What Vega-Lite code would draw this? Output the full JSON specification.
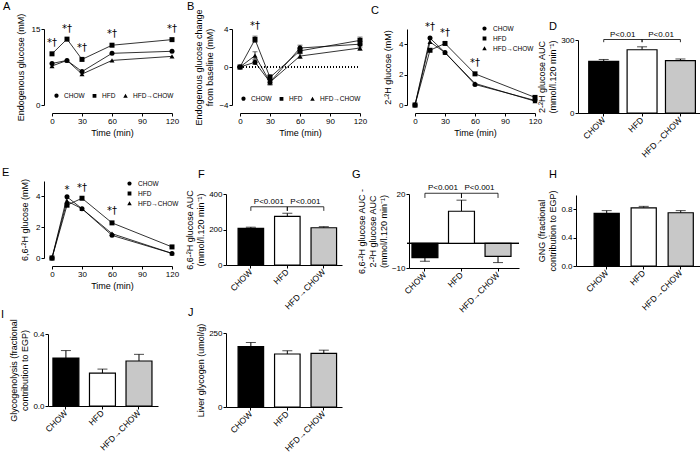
{
"$schema": "https://vega.github.io/schema/vega-lite/v6.json",
"padding": {"left": 1, "top": 0, "right": 0, "bottom": 0},
"columns": 4,
"spacing": {"row": 65, "column": 0},
"bounds": "flush",
"config": {
 "font": "Liberation Sans",
 "view": {"stroke": null},
 "axis": {"grid": false, "labelOverlap": false, "labelFlush": false, "labelFontSize": 8, "titleFontSize": 9, "titleFontWeight": "normal", "tickSize": 3, "labelPadding": 1, "titlePadding": 3, "domainColor": "black", "tickColor": "black", "labelColor": "black", "titleColor": "black", "labelFont": "Liberation Sans", "titleFont": "Liberation Sans"},
 "legend": {"labelFontSize": 6.5, "labelColor": "black", "labelFont": "Liberation Sans"},
 "title": {"orient": "top", "anchor": "start", "frame": "group", "align": "left", "baseline": "bottom", "fontSize": 11, "fontWeight": "normal", "offset": 0, "color": "black"}
},
"datasets": {
 "lA": [
  {"t":0,"g":"CHOW","v":8.2},{"t":15,"g":"CHOW","v":8.8},{"t":30,"g":"CHOW","v":6.6},{"t":60,"g":"CHOW","v":10.2},{"t":120,"g":"CHOW","v":10.6},
  {"t":0,"g":"HFD","v":10.1},{"t":15,"g":"HFD","v":13.0},{"t":30,"g":"HFD","v":9.0},{"t":60,"g":"HFD","v":11.8},{"t":120,"g":"HFD","v":12.9},
  {"t":0,"g":"HFD→CHOW","v":7.7},{"t":15,"g":"HFD→CHOW","v":8.8},{"t":30,"g":"HFD→CHOW","v":6.1},{"t":60,"g":"HFD→CHOW","v":8.8},{"t":120,"g":"HFD→CHOW","v":9.6}
 ],
 "nA": [{"t":0,"v":12.2,"s":"*†"},{"t":15,"v":15,"s":"*†"},{"t":30,"v":11.3,"s":"*†"},{"t":60,"v":14,"s":"*†"},{"t":120,"v":15,"s":"*†"}],
 "lB": [
  {"t":0,"g":"CHOW","v":0,"lo":0,"hi":0},{"t":15,"g":"CHOW","v":0.5,"lo":0.25,"hi":0.75},{"t":30,"g":"CHOW","v":-1.6,"lo":-1.85,"hi":-1.35},{"t":60,"g":"CHOW","v":2.0,"lo":1.7,"hi":2.3},{"t":120,"g":"CHOW","v":2.4,"lo":2.1,"hi":2.7},
  {"t":0,"g":"HFD","v":0,"lo":0,"hi":0},{"t":15,"g":"HFD","v":2.9,"lo":2.6,"hi":3.25},{"t":30,"g":"HFD","v":-1.1,"lo":-1.4,"hi":-0.8},{"t":60,"g":"HFD","v":1.7,"lo":1.4,"hi":2.0},{"t":120,"g":"HFD","v":2.8,"lo":2.45,"hi":3.15},
  {"t":0,"g":"HFD→CHOW","v":0,"lo":0,"hi":0},{"t":15,"g":"HFD→CHOW","v":1.2,"lo":0.85,"hi":1.6},{"t":30,"g":"HFD→CHOW","v":-1.6,"lo":-1.9,"hi":-1.3},{"t":60,"g":"HFD→CHOW","v":1.15,"lo":0.9,"hi":1.4},{"t":120,"g":"HFD→CHOW","v":2.0,"lo":1.75,"hi":2.25}
 ],
 "nB": [{"t":15,"v":4.3,"s":"*†"}],
 "lC": [
  {"t":0,"g":"CHOW","v":0,"lo":0,"hi":0},{"t":15,"g":"CHOW","v":4.4,"lo":4.3,"hi":4.5},{"t":30,"g":"CHOW","v":3.45,"lo":3.37,"hi":3.53},{"t":60,"g":"CHOW","v":1.35,"lo":1.27,"hi":1.43},{"t":120,"g":"CHOW","v":0.3,"lo":0.25,"hi":0.35},
  {"t":0,"g":"HFD","v":0,"lo":0,"hi":0},{"t":15,"g":"HFD","v":3.6,"lo":3.48,"hi":3.72},{"t":30,"g":"HFD","v":4.05,"lo":3.95,"hi":4.15},{"t":60,"g":"HFD","v":2.05,"lo":1.95,"hi":2.15},{"t":120,"g":"HFD","v":0.5,"lo":0.44,"hi":0.56},
  {"t":0,"g":"HFD→CHOW","v":0,"lo":0,"hi":0},{"t":15,"g":"HFD→CHOW","v":4.15,"lo":4.05,"hi":4.25},{"t":30,"g":"HFD→CHOW","v":3.45,"lo":3.37,"hi":3.53},{"t":60,"g":"HFD→CHOW","v":1.42,"lo":1.34,"hi":1.5},{"t":120,"g":"HFD→CHOW","v":0.25,"lo":0.2,"hi":0.3}
 ],
 "nC": [{"t":15,"v":5.1,"s":"*†"},{"t":30,"v":4.75,"s":"*†"},{"t":60,"v":2.75,"s":"*†"}],
 "lE": [
  {"t":0,"g":"CHOW","v":0,"lo":0,"hi":0},{"t":15,"g":"CHOW","v":3.97,"lo":3.88,"hi":4.06},{"t":30,"g":"CHOW","v":3.2,"lo":3.12,"hi":3.28},{"t":60,"g":"CHOW","v":1.47,"lo":1.39,"hi":1.55},{"t":120,"g":"CHOW","v":0.3,"lo":0.25,"hi":0.35},
  {"t":0,"g":"HFD","v":0,"lo":0,"hi":0},{"t":15,"g":"HFD","v":3.43,"lo":3.33,"hi":3.53},{"t":30,"g":"HFD","v":3.88,"lo":3.78,"hi":3.98},{"t":60,"g":"HFD","v":2.28,"lo":2.18,"hi":2.38},{"t":120,"g":"HFD","v":0.72,"lo":0.66,"hi":0.78},
  {"t":0,"g":"HFD→CHOW","v":0,"lo":0,"hi":0},{"t":15,"g":"HFD→CHOW","v":3.7,"lo":3.6,"hi":3.8},{"t":30,"g":"HFD→CHOW","v":3.2,"lo":3.12,"hi":3.28},{"t":60,"g":"HFD→CHOW","v":1.58,"lo":1.5,"hi":1.66},{"t":120,"g":"HFD→CHOW","v":0.3,"lo":0.25,"hi":0.35}
 ],
 "nE": [{"t":15,"v":4.4,"s":"*"},{"t":30,"v":4.55,"s":"*†"},{"t":60,"v":3.05,"s":"*†"}],
 "bD": [{"g":"CHOW","v":212,"err":220},{"g":"HFD","v":260,"err":272},{"g":"HFD→CHOW","v":215,"err":222}],
 "pD": [{"a":"CHOW","b":"HFD","y":302,"y0":291,"s":"P<0.01"},{"a":"HFD","b":"HFD→CHOW","y":302,"y0":291,"s":"P<0.01"}],
 "bF": [{"g":"CHOW","v":206,"err":213},{"g":"HFD","v":274,"err":291},{"g":"HFD→CHOW","v":210,"err":216}],
 "pF": [{"a":"CHOW","b":"HFD","y":328,"y0":305,"s":"P<0.001"},{"a":"HFD","b":"HFD→CHOW","y":328,"y0":305,"s":"P<0.001"}],
 "bG": [{"g":"CHOW","v":-5.8,"err":-7.3},{"g":"HFD","v":13,"err":17.5},{"g":"HFD→CHOW","v":-5.3,"err":-7.8}],
 "pG": [{"a":"CHOW","b":"HFD","y":20.3,"y0":18.4,"s":"P<0.001"},{"a":"HFD","b":"HFD→CHOW","y":20.3,"y0":18.4,"s":"P<0.001"}],
 "bH": [{"g":"CHOW","v":0.74,"err":0.78},{"g":"HFD","v":0.82,"err":0.84},{"g":"HFD→CHOW","v":0.75,"err":0.78}],
 "bI": [{"g":"CHOW","v":0.266,"err":0.308},{"g":"HFD","v":0.183,"err":0.205},{"g":"HFD→CHOW","v":0.25,"err":0.287}],
 "bJ": [{"g":"CHOW","v":204,"err":218},{"g":"HFD","v":179,"err":190},{"g":"HFD→CHOW","v":181,"err":192}]
},
"concat": [
 {
  "width": 182, "height": 84,
  "title": {"text": "A", "dx": -41, "dy": 3},
  "data": {"name": "lA"},
  "resolve": {"scale": {"shape": "independent"}},
  "layer": [
   {"mark": {"type": "line", "color": "black", "strokeWidth": 0.8},
    "encoding": {
     "x": {"field": "t", "type": "quantitative", "scale": {"domain": [0, 120], "range": [8, 128], "nice": false, "zero": false}, "axis": {"title": "Time (min)", "values": [0, 30, 60, 90, 120], "labelOverlap": false}},
     "y": {"field": "v", "type": "quantitative", "scale": {"domain": [0, 15], "range": [76, 0], "nice": false}, "axis": {"title": "Endogenous glucose (mM)", "values": [0, 5, 10, 15], "titlePadding": 6, "labelOverlap": false}},
     "detail": {"field": "g"}}},
   {"mark": {"type": "point", "filled": true, "color": "black", "size": 25, "opacity": 1},
    "encoding": {"x": {"field": "t", "type": "quantitative"}, "y": {"field": "v", "type": "quantitative"},
     "shape": {"field": "g", "type": "nominal", "scale": {"domain": ["CHOW", "HFD", "HFD→CHOW"], "range": ["circle", "square", "triangle-up"]}, "legend": null}}},
   {"transform": [{"filter": "false"}],
    "mark": {"type": "point", "fill": "black", "stroke": "black", "strokeWidth": 1, "opacity": 1},
    "encoding": {"x": {"field": "t", "type": "quantitative"}, "y": {"field": "v", "type": "quantitative"},
     "shape": {"field": "g", "type": "nominal", "scale": {"domain": ["CHOW", "HFD", "HFD→CHOW"], "range": ["M-1,0L1,0M0.42,0A0.42,0.42,0,1,1,-0.42,0A0.42,0.42,0,1,1,0.42,0Z", "M-1,0L1,0M-0.38,-0.38L0.38,-0.38L0.38,0.38L-0.38,0.38Z", "M-1,0L1,0M0,-0.45L0.45,0.35L-0.45,0.35Z"]},
      "legend": {"title": null, "orient": "none", "legendX": 7, "legendY": 61, "direction": "horizontal", "symbolSize": 100, "columnPadding": 2, "labelOffset": 2, "symbolStrokeWidth": 1, "symbolFillColor": "black", "symbolStrokeColor": "black", "symbolOpacity": 1}}}},
   {"data": {"name": "nA"}, "mark": {"type": "text", "fontSize": 10, "baseline": "middle", "fill": "black", "font": "DejaVu Sans"},
    "encoding": {"x": {"field": "t", "type": "quantitative"}, "y": {"field": "v", "type": "quantitative"}, "text": {"field": "s"}}}
  ]
 },
 {
  "width": 181, "height": 84,
  "title": {"text": "B", "dx": -39, "dy": 7},
  "data": {"name": "lB"},
  "resolve": {"scale": {"shape": "independent"}},
  "layer": [
   {"mark": {"type": "rule", "color": "black", "strokeDash": [1, 2], "strokeWidth": 0.8},
    "encoding": {"x": {"datum": 0, "type": "quantitative"}, "x2": {"datum": 120}, "y": {"datum": 0, "type": "quantitative"}}},
   {"mark": {"type": "rule", "color": "black", "strokeWidth": 0.8},
    "encoding": {"x": {"field": "t", "type": "quantitative"}, "y": {"field": "lo", "type": "quantitative"}, "y2": {"field": "hi"}}},
   {"mark": {"type": "tick", "orient": "horizontal", "color": "black", "size": 5, "thickness": 0.8},
    "encoding": {"x": {"field": "t", "type": "quantitative"}, "y": {"field": "hi", "type": "quantitative"}}},
   {"mark": {"type": "tick", "orient": "horizontal", "color": "black", "size": 5, "thickness": 0.8},
    "encoding": {"x": {"field": "t", "type": "quantitative"}, "y": {"field": "lo", "type": "quantitative"}}},
   {"mark": {"type": "line", "color": "black", "strokeWidth": 0.8},
    "encoding": {
     "x": {"field": "t", "type": "quantitative", "scale": {"domain": [0, 120], "range": [14, 134], "nice": false, "zero": false}, "axis": {"title": "Time (min)", "values": [0, 30, 60, 90, 120], "labelOverlap": false}},
     "y": {"field": "v", "type": "quantitative", "scale": {"domain": [-4, 4], "range": [76, 0], "nice": false}, "axis": {"title": ["Endogenous glucose change", "from baseline (mM)"], "values": [-4, -2, 0, 2, 4], "offset": -6, "titlePadding": 4, "labelOverlap": false}},
     "detail": {"field": "g"}}},
   {"mark": {"type": "point", "filled": true, "color": "black", "size": 25, "opacity": 1},
    "encoding": {"x": {"field": "t", "type": "quantitative"}, "y": {"field": "v", "type": "quantitative"},
     "shape": {"field": "g", "type": "nominal", "scale": {"domain": ["CHOW", "HFD", "HFD→CHOW"], "range": ["circle", "square", "triangle-up"]}, "legend": null}}},
   {"transform": [{"filter": "false"}],
    "mark": {"type": "point", "fill": "black", "stroke": "black", "strokeWidth": 1, "opacity": 1},
    "encoding": {"x": {"field": "t", "type": "quantitative"}, "y": {"field": "v", "type": "quantitative"},
     "shape": {"field": "g", "type": "nominal", "scale": {"domain": ["CHOW", "HFD", "HFD→CHOW"], "range": ["M-1,0L1,0M0.42,0A0.42,0.42,0,1,1,-0.42,0A0.42,0.42,0,1,1,0.42,0Z", "M-1,0L1,0M-0.38,-0.38L0.38,-0.38L0.38,0.38L-0.38,0.38Z", "M-1,0L1,0M0,-0.45L0.45,0.35L-0.45,0.35Z"]},
      "legend": {"title": null, "orient": "none", "legendX": 12, "legendY": 64, "direction": "horizontal", "symbolSize": 100, "columnPadding": 2, "labelOffset": 2, "symbolStrokeWidth": 1, "symbolFillColor": "black", "symbolStrokeColor": "black", "symbolOpacity": 1}}}},
   {"data": {"name": "nB"}, "mark": {"type": "text", "fontSize": 10, "baseline": "middle", "fill": "black", "font": "DejaVu Sans"},
    "encoding": {"x": {"field": "t", "type": "quantitative"}, "y": {"field": "v", "type": "quantitative"}, "text": {"field": "s"}}}
  ]
 },
 {
  "width": 169, "height": 84,
  "title": {"text": "C", "dx": -36, "dy": -2},
  "data": {"name": "lC"},
  "resolve": {"scale": {"shape": "independent"}},
  "layer": [
   {"mark": {"type": "rule", "color": "black", "strokeWidth": 0.8},
    "encoding": {"x": {"field": "t", "type": "quantitative"}, "y": {"field": "lo", "type": "quantitative"}, "y2": {"field": "hi"}}},
   {"mark": {"type": "line", "color": "black", "strokeWidth": 0.8},
    "encoding": {
     "x": {"field": "t", "type": "quantitative", "scale": {"domain": [0, 120], "range": [8, 128], "nice": false, "zero": false}, "axis": {"title": "Time (min)", "values": [0, 30, 60, 90, 120], "labelOverlap": false}},
     "y": {"field": "v", "type": "quantitative", "scale": {"domain": [0, 5], "range": [76, 0], "nice": false}, "axis": {"title": "2-²H glucose (mM)", "values": [0, 1, 2, 3, 4, 5], "titlePadding": 6, "labelOverlap": false}},
     "detail": {"field": "g"}}},
   {"mark": {"type": "point", "filled": true, "color": "black", "size": 25, "opacity": 1},
    "encoding": {"x": {"field": "t", "type": "quantitative"}, "y": {"field": "v", "type": "quantitative"},
     "shape": {"field": "g", "type": "nominal", "scale": {"domain": ["CHOW", "HFD", "HFD→CHOW"], "range": ["circle", "square", "triangle-up"]}, "legend": null}}},
   {"transform": [{"filter": "false"}],
    "mark": {"type": "point", "fill": "black", "stroke": "black", "strokeWidth": 1, "opacity": 1},
    "encoding": {"x": {"field": "t", "type": "quantitative"}, "y": {"field": "v", "type": "quantitative"},
     "shape": {"field": "g", "type": "nominal", "scale": {"domain": ["CHOW", "HFD", "HFD→CHOW"], "range": ["M-1,0L1,0M0.42,0A0.42,0.42,0,1,1,-0.42,0A0.42,0.42,0,1,1,0.42,0Z", "M-1,0L1,0M-0.38,-0.38L0.38,-0.38L0.38,0.38L-0.38,0.38Z", "M-1,0L1,0M0,-0.45L0.45,0.35L-0.45,0.35Z"]},
      "legend": {"title": null, "orient": "none", "legendX": 72, "legendY": -6, "direction": "vertical", "symbolSize": 100, "rowPadding": 0, "labelOffset": 3, "symbolStrokeWidth": 1, "symbolFillColor": "black", "symbolStrokeColor": "black", "symbolOpacity": 1}}}},
   {"data": {"name": "nC"}, "mark": {"type": "text", "fontSize": 10, "baseline": "middle", "fill": "black", "font": "DejaVu Sans"},
    "encoding": {"x": {"field": "t", "type": "quantitative"}, "y": {"field": "v", "type": "quantitative"}, "text": {"field": "s"}}}
  ]
 },
 {
  "width": 124, "height": 84,
  "title": {"text": "D", "dx": -27, "dy": 7},
  "data": {"name": "bD"},
  "layer": [
   {"mark": {"type": "rule", "color": "black", "strokeWidth": 1},
    "encoding": {"x": {"field": "g", "type": "nominal"}, "y": {"field": "v", "type": "quantitative"}, "y2": {"field": "err"}}},
   {"mark": {"type": "tick", "color": "black", "size": 10, "thickness": 1},
    "encoding": {"x": {"field": "g", "type": "nominal"}, "y": {"field": "err", "type": "quantitative"}}},
   {"mark": {"type": "bar", "stroke": "black", "strokeWidth": 1.2},
    "encoding": {
     "x": {"field": "g", "type": "nominal", "scale": {"domain": ["CHOW", "HFD", "HFD→CHOW"], "range": [2, 124], "paddingInner": 0.22, "paddingOuter": 0.2, "align": 0.7}, "axis": {"title": null, "labelAngle": -45, "labelFontSize": 8.5, "labelPadding": 2}},
     "y": {"field": "v", "type": "quantitative", "scale": {"domain": [0, 300], "range": [84, 11], "nice": false}, "axis": {"title": ["2-²H glucose AUC", "(mmol/l.120 min⁻¹)"], "values": [0, 100, 200, 300], "offset": -2, "labelOverlap": false}},
     "fill": {"field": "g", "type": "nominal", "scale": {"domain": ["CHOW", "HFD", "HFD→CHOW"], "range": ["black", "white", "#c8c8c8"]}, "legend": null}}},
   {"data": {"name": "pD"}, "mark": {"type": "rule", "color": "black", "strokeWidth": 0.8},
    "encoding": {"x": {"field": "a", "type": "nominal"}, "x2": {"field": "b"}, "y": {"field": "y", "type": "quantitative"}}},
   {"data": {"name": "pD"}, "mark": {"type": "rule", "color": "black", "strokeWidth": 0.8},
    "encoding": {"x": {"field": "a", "type": "nominal"}, "y": {"field": "y", "type": "quantitative"}, "y2": {"field": "y0"}}},
   {"data": {"name": "pD"}, "mark": {"type": "rule", "color": "black", "strokeWidth": 0.8},
    "encoding": {"x": {"field": "b", "type": "nominal"}, "y": {"field": "y", "type": "quantitative"}, "y2": {"field": "y0"}}},
   {"data": {"name": "pD"}, "mark": {"type": "text", "fontSize": 8, "baseline": "bottom", "dx": 19, "dy": -1, "fill": "black"},
    "encoding": {"x": {"field": "a", "type": "nominal"}, "y": {"field": "y", "type": "quantitative"}, "text": {"field": "s"}}}
  ]
 },
 {
  "width": 182, "height": 88,
  "title": {"text": "E", "dx": -42, "dy": 4},
  "data": {"name": "lE"},
  "resolve": {"scale": {"shape": "independent"}},
  "layer": [
   {"mark": {"type": "rule", "color": "black", "strokeWidth": 0.8},
    "encoding": {"x": {"field": "t", "type": "quantitative"}, "y": {"field": "lo", "type": "quantitative"}, "y2": {"field": "hi"}}},
   {"mark": {"type": "line", "color": "black", "strokeWidth": 0.8},
    "encoding": {
     "x": {"field": "t", "type": "quantitative", "scale": {"domain": [0, 120], "range": [8, 128], "nice": false, "zero": false}, "axis": {"title": "Time (min)", "values": [0, 30, 60, 90, 120], "labelOverlap": false}},
     "y": {"field": "v", "type": "quantitative", "scale": {"domain": [0, 5], "range": [80, 3], "nice": false}, "axis": {"title": "6,6-²H glucose (mM)", "values": [0, 1, 2, 3, 4, 5], "titlePadding": 6, "labelOverlap": false}},
     "detail": {"field": "g"}}},
   {"mark": {"type": "point", "filled": true, "color": "black", "size": 25, "opacity": 1},
    "encoding": {"x": {"field": "t", "type": "quantitative"}, "y": {"field": "v", "type": "quantitative"},
     "shape": {"field": "g", "type": "nominal", "scale": {"domain": ["CHOW", "HFD", "HFD→CHOW"], "range": ["circle", "square", "triangle-up"]}, "legend": null}}},
   {"transform": [{"filter": "false"}],
    "mark": {"type": "point", "fill": "black", "stroke": "black", "strokeWidth": 1, "opacity": 1},
    "encoding": {"x": {"field": "t", "type": "quantitative"}, "y": {"field": "v", "type": "quantitative"},
     "shape": {"field": "g", "type": "nominal", "scale": {"domain": ["CHOW", "HFD", "HFD→CHOW"], "range": ["M-1,0L1,0M0.42,0A0.42,0.42,0,1,1,-0.42,0A0.42,0.42,0,1,1,0.42,0Z", "M-1,0L1,0M-0.38,-0.38L0.38,-0.38L0.38,0.38L-0.38,0.38Z", "M-1,0L1,0M0,-0.45L0.45,0.35L-0.45,0.35Z"]},
      "legend": {"title": null, "orient": "none", "legendX": 80, "legendY": 0, "direction": "vertical", "symbolSize": 100, "rowPadding": 0, "labelOffset": 3, "symbolStrokeWidth": 1, "symbolFillColor": "black", "symbolStrokeColor": "black", "symbolOpacity": 1}}}},
   {"data": {"name": "nE"}, "mark": {"type": "text", "fontSize": 10, "baseline": "middle", "fill": "black", "font": "DejaVu Sans"},
    "encoding": {"x": {"field": "t", "type": "quantitative"}, "y": {"field": "v", "type": "quantitative"}, "text": {"field": "s"}}}
  ]
 },
 {
  "width": 116, "height": 87,
  "title": {"text": "F", "dx": -28, "dy": 6},
  "data": {"name": "bF"},
  "layer": [
   {"mark": {"type": "rule", "color": "black", "strokeWidth": 1},
    "encoding": {"x": {"field": "g", "type": "nominal"}, "y": {"field": "v", "type": "quantitative"}, "y2": {"field": "err"}}},
   {"mark": {"type": "tick", "color": "black", "size": 10, "thickness": 1},
    "encoding": {"x": {"field": "g", "type": "nominal"}, "y": {"field": "err", "type": "quantitative"}}},
   {"mark": {"type": "bar", "stroke": "black", "strokeWidth": 1.2},
    "encoding": {
     "x": {"field": "g", "type": "nominal", "scale": {"domain": ["CHOW", "HFD", "HFD→CHOW"], "range": [0, 116], "paddingInner": 0.3, "paddingOuter": 0.24, "align": 0.69}, "axis": {"title": null, "labelAngle": -45, "labelFontSize": 8.5, "labelPadding": 2}},
     "y": {"field": "v", "type": "quantitative", "scale": {"domain": [0, 400], "range": [87, 16], "nice": false}, "axis": {"title": ["6,6-²H glucose AUC", "(mmol/l.120 min⁻¹)"], "values": [0, 100, 200, 300, 400], "labelOverlap": false}},
     "fill": {"field": "g", "type": "nominal", "scale": {"domain": ["CHOW", "HFD", "HFD→CHOW"], "range": ["black", "white", "#c8c8c8"]}, "legend": null}}},
   {"data": {"name": "pF"}, "mark": {"type": "rule", "color": "black", "strokeWidth": 0.8},
    "encoding": {"x": {"field": "a", "type": "nominal"}, "x2": {"field": "b"}, "y": {"field": "y", "type": "quantitative"}}},
   {"data": {"name": "pF"}, "mark": {"type": "rule", "color": "black", "strokeWidth": 0.8},
    "encoding": {"x": {"field": "a", "type": "nominal"}, "y": {"field": "y", "type": "quantitative"}, "y2": {"field": "y0"}}},
   {"data": {"name": "pF"}, "mark": {"type": "rule", "color": "black", "strokeWidth": 0.8},
    "encoding": {"x": {"field": "b", "type": "nominal"}, "y": {"field": "y", "type": "quantitative"}, "y2": {"field": "y0"}}},
   {"data": {"name": "pF"}, "mark": {"type": "text", "fontSize": 8, "baseline": "bottom", "dx": 18, "dy": -1, "fill": "black"},
    "encoding": {"x": {"field": "a", "type": "nominal"}, "y": {"field": "y", "type": "quantitative"}, "text": {"field": "s"}}}
  ]
 },
 {
  "width": 112, "height": 90,
  "title": {"text": "G", "dx": -55, "dy": 6},
  "data": {"name": "bG"},
  "layer": [
   {"mark": {"type": "rule", "color": "black", "strokeWidth": 1},
    "encoding": {"y": {"datum": 0, "type": "quantitative"}}},
   {"mark": {"type": "rule", "color": "black", "strokeWidth": 1},
    "encoding": {"x": {"field": "g", "type": "nominal"}, "y": {"field": "v", "type": "quantitative"}, "y2": {"field": "err"}}},
   {"mark": {"type": "tick", "color": "black", "size": 10, "thickness": 1},
    "encoding": {"x": {"field": "g", "type": "nominal"}, "y": {"field": "err", "type": "quantitative"}}},
   {"mark": {"type": "bar", "stroke": "black", "strokeWidth": 1.2},
    "encoding": {
     "x": {"field": "g", "type": "nominal", "scale": {"domain": ["CHOW", "HFD", "HFD→CHOW"], "range": [2, 112], "paddingInner": 0.29, "paddingOuter": 0.15, "align": 0.27}, "axis": {"title": null, "labelAngle": -45, "labelFontSize": 8.5, "labelPadding": 2}},
     "y": {"field": "v", "type": "quantitative", "scale": {"domain": [-10, 20], "range": [90, 16], "nice": false, "zero": false}, "axis": {"title": ["6,6-²H glucose AUC -", "2-²H glucose AUC", "(mmol/l.120 min⁻¹)"], "values": [-10, 0, 10, 20], "offset": -2, "labelOverlap": false}},
     "fill": {"field": "g", "type": "nominal", "scale": {"domain": ["CHOW", "HFD", "HFD→CHOW"], "range": ["black", "white", "#c8c8c8"]}, "legend": null}}},
   {"data": {"name": "pG"}, "mark": {"type": "rule", "color": "black", "strokeWidth": 0.8},
    "encoding": {"x": {"field": "a", "type": "nominal"}, "x2": {"field": "b"}, "y": {"field": "y", "type": "quantitative"}}},
   {"data": {"name": "pG"}, "mark": {"type": "rule", "color": "black", "strokeWidth": 0.8},
    "encoding": {"x": {"field": "a", "type": "nominal"}, "y": {"field": "y", "type": "quantitative"}, "y2": {"field": "y0"}}},
   {"data": {"name": "pG"}, "mark": {"type": "rule", "color": "black", "strokeWidth": 0.8},
    "encoding": {"x": {"field": "b", "type": "nominal"}, "y": {"field": "y", "type": "quantitative"}, "y2": {"field": "y0"}}},
   {"data": {"name": "pG"}, "mark": {"type": "text", "fontSize": 8, "baseline": "bottom", "dx": 18, "dy": -1, "fill": "black"},
    "encoding": {"x": {"field": "a", "type": "nominal"}, "y": {"field": "y", "type": "quantitative"}, "text": {"field": "s"}}}
  ]
 },
 {
  "width": 124, "height": 88,
  "title": {"text": "H", "dx": -27, "dy": 6},
  "data": {"name": "bH"},
  "layer": [
   {"mark": {"type": "rule", "color": "black", "strokeWidth": 1},
    "encoding": {"x": {"field": "g", "type": "nominal"}, "y": {"field": "v", "type": "quantitative"}, "y2": {"field": "err"}}},
   {"mark": {"type": "tick", "color": "black", "size": 10, "thickness": 1},
    "encoding": {"x": {"field": "g", "type": "nominal"}, "y": {"field": "err", "type": "quantitative"}}},
   {"mark": {"type": "bar", "stroke": "black", "strokeWidth": 1.2},
    "encoding": {
     "x": {"field": "g", "type": "nominal", "scale": {"domain": ["CHOW", "HFD", "HFD→CHOW"], "range": [0, 124], "paddingInner": 0.32, "paddingOuter": 0.335, "align": 0.73}, "axis": {"title": null, "labelAngle": -45, "labelFontSize": 8.5, "labelPadding": 2}},
     "y": {"field": "v", "type": "quantitative", "scale": {"domain": [0, 1], "range": [88, 17], "nice": false}, "axis": {"title": ["GNG (fractional", "contribution to EGP)"], "values": [0, 0.2, 0.4, 0.6, 0.8, 1], "format": ".1f", "labelOverlap": false}},
     "fill": {"field": "g", "type": "nominal", "scale": {"domain": ["CHOW", "HFD", "HFD→CHOW"], "range": ["black", "white", "#c8c8c8"]}, "legend": null}}}
  ]
 },
 {
  "width": 116, "height": 73,
  "title": {"text": "I", "dx": -43, "dy": 5},
  "data": {"name": "bI"},
  "layer": [
   {"mark": {"type": "rule", "color": "black", "strokeWidth": 1},
    "encoding": {"x": {"field": "g", "type": "nominal"}, "y": {"field": "v", "type": "quantitative"}, "y2": {"field": "err"}}},
   {"mark": {"type": "tick", "color": "black", "size": 10, "thickness": 1},
    "encoding": {"x": {"field": "g", "type": "nominal"}, "y": {"field": "err", "type": "quantitative"}}},
   {"mark": {"type": "bar", "stroke": "black", "strokeWidth": 1.2},
    "encoding": {
     "x": {"field": "g", "type": "nominal", "scale": {"domain": ["CHOW", "HFD", "HFD→CHOW"], "range": [4, 114], "paddingInner": 0.29, "paddingOuter": 0.15, "align": 0.45}, "axis": {"title": null, "labelAngle": -45, "labelFontSize": 8.5, "labelPadding": 2}},
     "y": {"field": "v", "type": "quantitative", "scale": {"domain": [0, 0.4], "range": [73, 1], "nice": false}, "axis": {"title": ["Glycogenolysis (fractional", "contribution to EGP)"], "values": [0, 0.1, 0.2, 0.3, 0.4], "format": ".1f", "offset": -4, "labelOverlap": false}},
     "fill": {"field": "g", "type": "nominal", "scale": {"domain": ["CHOW", "HFD", "HFD→CHOW"], "range": ["black", "white", "#c8c8c8"]}, "legend": null}}}
  ]
 },
 {
  "width": 116, "height": 74,
  "title": {"text": "J", "dx": -38, "dy": -1},
  "data": {"name": "bJ"},
  "layer": [
   {"mark": {"type": "rule", "color": "black", "strokeWidth": 1},
    "encoding": {"x": {"field": "g", "type": "nominal"}, "y": {"field": "v", "type": "quantitative"}, "y2": {"field": "err"}}},
   {"mark": {"type": "tick", "color": "black", "size": 10, "thickness": 1},
    "encoding": {"x": {"field": "g", "type": "nominal"}, "y": {"field": "err", "type": "quantitative"}}},
   {"mark": {"type": "bar", "stroke": "black", "strokeWidth": 1.2},
    "encoding": {
     "x": {"field": "g", "type": "nominal", "scale": {"domain": ["CHOW", "HFD", "HFD→CHOW"], "range": [0, 116], "paddingInner": 0.3, "paddingOuter": 0.24, "align": 0.69}, "axis": {"title": null, "labelAngle": -45, "labelFontSize": 8.5, "labelPadding": 2}},
     "y": {"field": "v", "type": "quantitative", "scale": {"domain": [0, 250], "range": [74, 0], "nice": false}, "axis": {"title": "Liver glycogen (umol/g)", "values": [0, 50, 100, 150, 200, 250], "labelOverlap": false}},
     "fill": {"field": "g", "type": "nominal", "scale": {"domain": ["CHOW", "HFD", "HFD→CHOW"], "range": ["black", "white", "#c8c8c8"]}, "legend": null}}}
  ]
 }
]
}
